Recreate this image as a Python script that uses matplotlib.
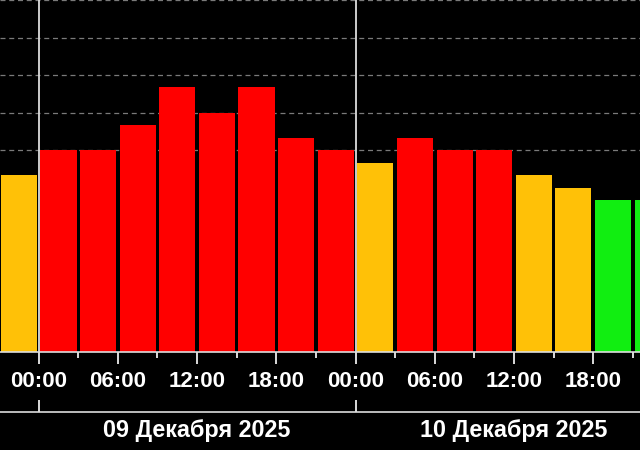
import matplotlib
matplotlib.use("Agg")
import matplotlib.pyplot as plt
import numpy as np

# Kp-индекс, интервалы по 3 часа (часы от 09.12.2025 00:00)
start_hours = [-3, 0, 3, 6, 9, 12, 15, 18, 21, 24, 27, 30, 33, 36, 39, 42, 45]
kp_values = [4.33, 5.0, 5.0, 5.67, 6.67, 6.0, 6.67, 5.33, 5.0,
             4.67, 5.33, 5.0, 5.0, 4.33, 4.0, 3.67, 3.67]
hour_labels = ["00:00", "06:00", "12:00", "18:00", "00:00", "06:00", "12:00", "18:00"]
hour_ticks = [0, 6, 12, 18, 24, 30, 36, 42]
day_labels = ["09 Декабря 2025", "10 Декабря 2025"]
day_starts = [0, 24, 48]


def kp_color(kp):
    if kp < 4:
        return "#11ee11"
    if kp < 5:
        return "#ffc107"
    return "#ff0000"


plt.rcParams['font.family'] = ['Liberation Sans', 'DejaVu Sans']

fig = plt.figure(figsize=(6.4, 4.5), dpi=100, facecolor="black")
ax = fig.add_axes([0, 0.2184, 1, 0.7816], facecolor="black")

ymin = -0.37
x = np.array(start_hours) + 1.5
heights = np.array(kp_values) - ymin
ax.bar(x, heights, bottom=ymin, width=2.73,
       color=[kp_color(k) for k in kp_values], zorder=2)

ax.set_xlim(-2.93, 45.55)
ax.set_ylim(ymin, 9)

# сетка по уровням бурь
ax.set_yticks([5, 6, 7, 8, 9])
ax.yaxis.grid(True, color="#7a7a7a", linestyle=(0, (4, 3)), linewidth=0.9)
ax.set_axisbelow(True)
ax.tick_params(axis="y", left=False, labelleft=False)

# границы суток
for d in day_starts:
    ax.axvline(d, color="#dddddd", linewidth=1.3, zorder=3)

for s in ["top", "left", "right"]:
    ax.spines[s].set_visible(False)
ax.spines["bottom"].set_color("#dddddd")
ax.spines["bottom"].set_linewidth(1.2)

ax.set_xticks(hour_ticks)
ax.set_xticklabels(hour_labels)
ax.set_xticks(np.arange(3, 46, 6), minor=True)
ax.tick_params(axis="x", which="major", colors="white", length=8.8, width=1.2,
               pad=5, labelsize=16)
ax.tick_params(axis="x", which="minor", colors="white", length=4, width=1.2)
for lbl in ax.get_xticklabels():
    lbl.set_fontweight("bold")

# вторая ось с датами
sec = ax.secondary_xaxis(-0.1706)
sec.spines["bottom"].set_color("#dddddd")
sec.spines["bottom"].set_linewidth(1.2)
sec.set_xticks(day_starts)
sec.set_xticklabels(["", "", ""])
sec.set_xticks([12, 36], minor=True)
sec.set_xticklabels(day_labels, minor=True)
sec.tick_params(axis="x", which="major", colors="white", direction="in",
                length=8.4, width=1.2)
sec.tick_params(axis="x", which="minor", colors="white", length=0, pad=5.5,
                labelsize=16.8)
for lbl in sec.get_xticklabels(minor=True):
    lbl.set_fontweight("bold")

fig.savefig("out.png", dpi=100, facecolor="black")
